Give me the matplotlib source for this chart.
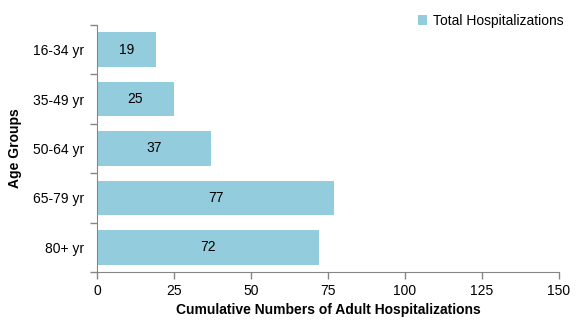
import matplotlib
matplotlib.use("Agg")
import matplotlib.pyplot as plt
from matplotlib.patches import Patch

# data
age_groups = ["16-34 yr", "35-49 yr", "50-64 yr", "65-79 yr", "80+ yr"]
hospitalizations = [19, 25, 37, 77, 72]
x_ticks = [0, 25, 50, 75, 100, 125, 150]

bar_color = "#93CDDD"
axis_color = "#868686"

plt.rcParams["font.family"] = ["Liberation Sans", "DejaVu Sans"]
plt.rcParams["font.size"] = 10

fig = plt.figure(figsize=(5.79, 3.24), dpi=100)
ax = fig.add_axes([0.1675, 0.1605, 0.798, 0.7625])

ypos = list(range(len(age_groups)))
ax.barh(ypos, hospitalizations, height=0.7, color=bar_color, zorder=2)

for y, v in zip(ypos, hospitalizations):
    ax.text(v / 2, y, str(v), ha="center", va="center", fontsize=10, color="black")

ax.set_xlim(0, 150)
ax.set_ylim(len(age_groups) - 0.5, -0.5)
ax.set_xticks(x_ticks)
ax.set_yticks(ypos)
ax.set_yticklabels(age_groups)
ax.set_yticks([i - 0.5 for i in range(len(age_groups) + 1)], minor=True)

ax.tick_params(axis="y", which="major", length=0, pad=9)
ax.tick_params(axis="y", which="minor", length=5, color=axis_color, width=1)
ax.tick_params(axis="x", which="major", length=5, color=axis_color, width=1, pad=4)

for side in ["top", "right"]:
    ax.spines[side].set_visible(False)
for side in ["left", "bottom"]:
    ax.spines[side].set_color(axis_color)

ax.set_xlabel("Cumulative Numbers of Adult Hospitalizations", fontweight="bold", labelpad=3)
ax.set_ylabel("Age Groups", fontweight="bold", labelpad=8)

handle = Patch(facecolor=bar_color, edgecolor="none")
fig.legend([handle], ["Total Hospitalizations"], loc="upper right",
           bbox_to_anchor=(0.995, 0.995), frameon=False, handlelength=0.7,
           handleheight=0.7, handletextpad=0.4, fontsize=10)

fig.savefig("out.png", dpi=100)
